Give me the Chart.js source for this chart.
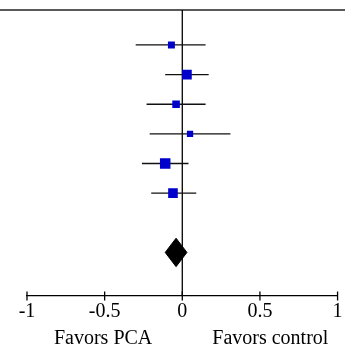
<!DOCTYPE html>
<html>
<head>
<meta charset="utf-8">
<script src="https://cdn.jsdelivr.net/npm/chart.js@4.4.1/dist/chart.umd.min.js"></script>
<style>
  html, body { margin: 0; padding: 0; background: #fff; }
  #wrap { width: 345px; height: 347px; }
</style>
</head>
<body>
<div id="wrap"><canvas id="c"></canvas></div>
<script>
// Study rows (1 = top row) and their effect estimates with confidence limits
const rows = [1, 2, 3, 4, 5, 6];
const estimates = [-0.07, 0.03, -0.04, 0.05, -0.11, -0.06];
const lowerCI = [-0.30, -0.11, -0.23, -0.21, -0.26, -0.20];
const upperCI = [0.15, 0.17, 0.15, 0.31, 0.04, 0.09];
const weights = [11, 21, 13, 9, 25, 21]; // percent weight per study

// Pooled estimate
const pooledRow = 8;
const pooledEstimate = -0.04;
const pooledLower = -0.11;
const pooledUpper = 0.03;

// X axis
const tickValues = [-1, -0.5, 0, 0.5, 1];
const tickLabels = ['-1', '-0.5', '0', '0.5', '1'];
const leftCaption = 'Favors PCA';
const rightCaption = 'Favors control';

const LINE = '#111';
const MARKER = '#0000cc';
const DIAMOND_HALF = 0.48;   // half height of the pooled diamond, in row units
const SERIF = '"Liberation Serif", "Times New Roman", serif';

Chart.defaults.font.family = SERIF;

// Confidence interval whiskers, one line per study
const ciSets = rows.map((r, i) => ({
  type: 'scatter',
  showLine: true,
  data: [{ x: lowerCI[i], y: r }, { x: upperCI[i], y: r }],
  borderColor: LINE,
  borderWidth: 1.3,
  pointRadius: 0,
  order: 3
}));

// Study estimates: square marker, area proportional to weight
const markerSet = {
  type: 'scatter',
  data: rows.map((r, i) => ({ x: estimates[i], y: r })),
  pointStyle: 'rect',
  pointRadius: weights.map(w => 2.1 * Math.sqrt(w) / Math.SQRT2),
  backgroundColor: MARKER,
  borderColor: MARKER,
  borderWidth: 0,
  order: 1
};

// Pooled estimate diamond
const diamondSet = {
  type: 'scatter',
  showLine: true,
  fill: 'shape',
  data: [
    { x: pooledLower, y: pooledRow },
    { x: pooledEstimate, y: pooledRow - DIAMOND_HALF },
    { x: pooledUpper, y: pooledRow },
    { x: pooledEstimate, y: pooledRow + DIAMOND_HALF },
    { x: pooledLower, y: pooledRow }
  ],
  backgroundColor: '#000',
  borderColor: '#000',
  borderWidth: 1,
  pointRadius: 0,
  tension: 0,
  order: 1
};

// Frame: top rule, line of no effect, crossing tick marks and captions
const forestDecor = {
  id: 'forestDecor',
  beforeDatasetsDraw(chart) {
    const { ctx, chartArea, scales } = chart;
    const x0 = scales.x.getPixelForValue(0);
    ctx.save();
    ctx.strokeStyle = '#222';
    ctx.lineWidth = 1.3;
    ctx.beginPath();
    ctx.moveTo(0, chartArea.top);
    ctx.lineTo(chart.width, chartArea.top);
    ctx.stroke();
    ctx.strokeStyle = '#000';
    ctx.beginPath();
    ctx.moveTo(x0, chartArea.top);
    ctx.lineTo(x0, chartArea.bottom);
    ctx.stroke();
    ctx.restore();
  },
  afterDraw(chart) {
    const { ctx, chartArea, scales } = chart;
    const xs = scales.x;
    const yAxis = chartArea.bottom;
    ctx.save();
    ctx.strokeStyle = '#000';
    ctx.lineWidth = 1.3;
    tickValues.forEach(v => {
      const px = xs.getPixelForValue(v);
      ctx.beginPath();
      ctx.moveTo(px, yAxis - 4.5);
      ctx.lineTo(px, yAxis + 4.5);
      ctx.stroke();
    });
    const x0 = xs.getPixelForValue(0);
    ctx.fillStyle = '#000';
    ctx.font = '20px ' + SERIF;
    ctx.textBaseline = 'alphabetic';
    ctx.textAlign = 'right';
    ctx.fillText(leftCaption, x0 - 30, 344);
    ctx.textAlign = 'left';
    ctx.fillText(rightCaption, x0 + 30, 344);
    ctx.restore();
  }
};

new Chart(document.getElementById('c'), {
  data: { datasets: [...ciSets, markerSet, diamondSet] },
  options: {
    responsive: true,
    maintainAspectRatio: false,
    animation: false,
    events: [],
    layout: { padding: { left: 27, right: 7, top: 10, bottom: 0 } },
    plugins: { legend: { display: false }, tooltip: { enabled: false } },
    scales: {
      x: {
        type: 'linear',
        min: -1,
        max: 1,
        afterBuildTicks: s => { s.ticks = tickValues.map(v => ({ value: v })); },
        afterFit: s => { s.height = 51; s.paddingLeft = 0; s.paddingRight = 0; },
        grid: { display: false },
        border: { display: true, color: '#000', width: 1.3 },
        ticks: {
          color: '#000',
          font: { size: 20, family: SERIF },
          padding: -4,
          maxRotation: 0,
          callback: v => tickLabels[tickValues.indexOf(v)]
        }
      },
      y: {
        type: 'linear',
        display: false,
        reverse: true,
        min: -0.18,
        max: 9.47
      }
    }
  },
  plugins: [forestDecor]
});
</script>
</body>
</html>
